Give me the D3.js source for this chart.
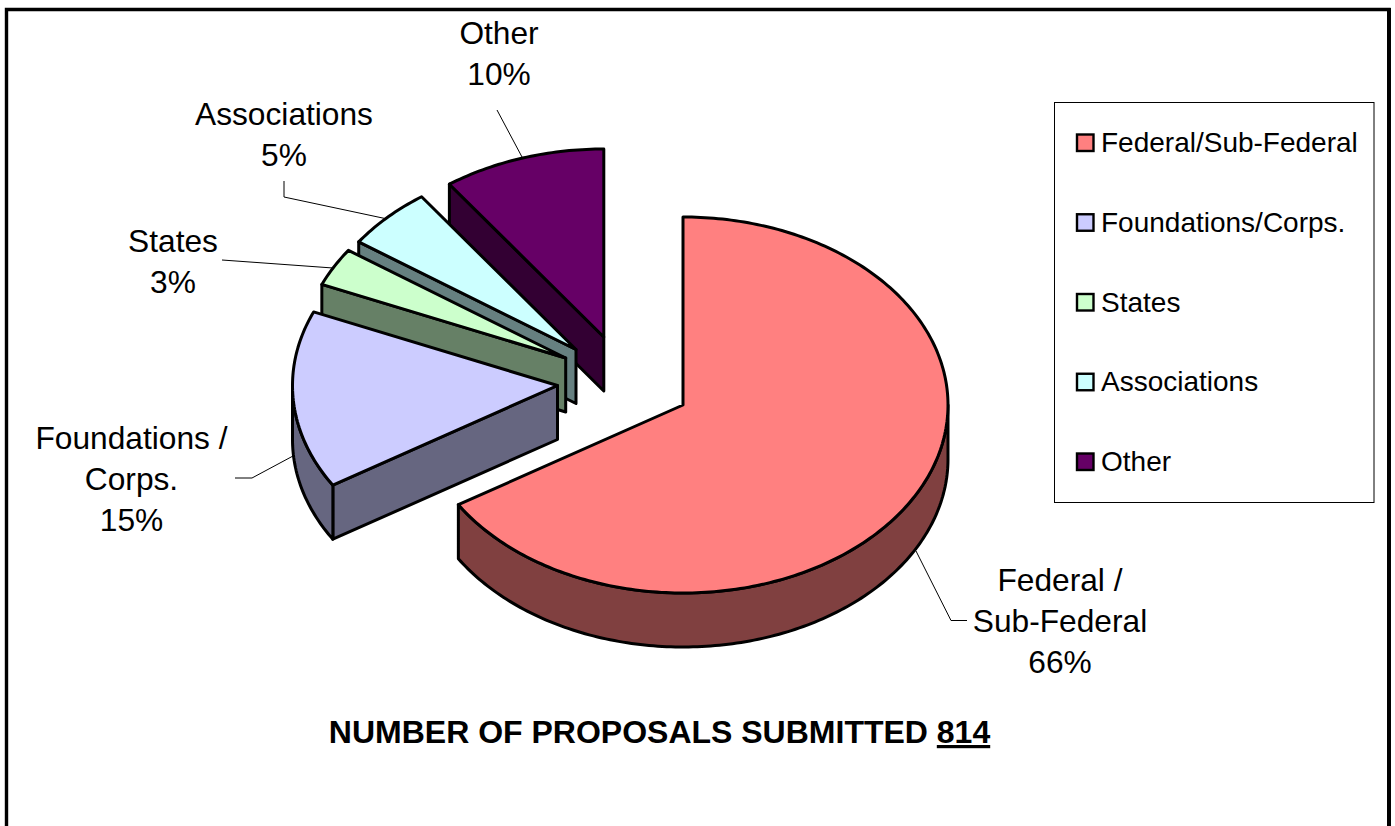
<!DOCTYPE html>
<html><head><meta charset="utf-8">
<script src="https://cdn.jsdelivr.net/npm/d3@7"></script>
<style>html,body{margin:0;padding:0;background:#fff;overflow:hidden}svg{display:block}text{font-family:"Liberation Sans",Arial,sans-serif;fill:#000}</style>
</head><body><svg id="c" width="1395" height="826"></svg>
<script>
// data
const categories = ["Federal/Sub-Federal","Foundations/Corps.","States","Associations","Other"];
const sliceValues = [66.1, 15.3, 3.3, 5.4, 9.9];
const percentLabels = ["66%","15%","3%","5%","10%"];
const sliceLabels = [["Federal /","Sub-Federal"],["Foundations /","Corps."],["States"],["Associations"],["Other"]];
const topColors = ["#FF8080","#CCCCFF","#CCFFCC","#CCFFFF","#660066"];
const wallColors = ["#804040","#666680","#668066","#668080","#330033"];
const titleText = "NUMBER OF PROPOSALS SUBMITTED ";
const titleValue = "814";

// layout
const RX = 265, RY = 188, DEPTH = 54;
const apexes = [[683,405],[557.5,385.5],[565.7,358],[576,349.5],[603.8,337]];
const labelPos = [[1060,591],[131.5,449],[173,252],[284,125],[499,44]];
const leaders = [
  [[916,551],[951,620.5],[967,620.5]],
  [[293,456],[252,478],[235,478]],
  [[333,268],[222,260]],
  [[385,218.5],[284,197],[284,181]],
  [[522,157],[497,110]]
];

const svg = d3.select("#c");
const pie = d3.pie().sort(null).value(d=>d);
const arcs = pie(sliceValues);
const sx = d3.scaleLinear().domain([-1,1]).range([-RX,RX]);
const sy = d3.scaleLinear().domain([-1,1]).range([-RY,RY]);
const pt = (i,a,dz=0)=>[apexes[i][0]+sx(Math.sin(a)), apexes[i][1]+sy(-Math.cos(a))+dz];
function rim(i,a0,a1,dz=0){ const n=Math.max(2,Math.ceil(Math.abs(a1-a0)*60)); return d3.range(n+1).map(k=>pt(i,a0+(a1-a0)*k/n,dz)); }
const line = d3.line();

const g = svg.append("g");
// frame
svg.append("path").attr("d","M6.5,826V9.5H1389V826").attr("fill","none").attr("stroke","#000").attr("stroke-width",3.4);
svg.append("rect").attr("x",1387).attr("y",8).attr("width",4).attr("height",818).attr("fill","#000");

// draw back to front
[4,3,2,1,0].forEach(i=>{
  const a = arcs[i], ap = apexes[i];
  const s = g.append("g");
  const style = sel=>sel.attr("stroke","#000").attr("stroke-width",3).attr("stroke-linejoin","round");
  if(i>0){
    const p0=pt(i,a.startAngle);
    s.append("path").attr("d",line([p0,[p0[0],p0[1]+DEPTH],[ap[0],ap[1]+DEPTH],ap])+"Z").attr("fill",wallColors[i]).call(style);
  }
  const from=Math.max(a.startAngle,Math.PI/2), to=Math.min(a.endAngle,1.5*Math.PI);
  if(to>from){
    const top=rim(i,from,to), bot=rim(i,to,from,DEPTH);
    s.append("path").attr("d",line(top.concat(bot))+"Z").attr("fill",wallColors[i]).call(style);
  }
  s.append("path").attr("d",line([ap].concat(rim(i,a.startAngle,a.endAngle)))+"Z").attr("fill",topColors[i]).call(style);
});

// leader lines
svg.selectAll("path.leader").data(leaders).join("path").attr("class","leader")
  .attr("d",d=>line(d)).attr("fill","none").attr("stroke","#000").attr("stroke-width",1);

// labels
const LH = 41;
sliceLabels.forEach((ls,i)=>{
  const t = svg.append("text").attr("text-anchor","middle").attr("font-size",31.7);
  ls.concat(percentLabels[i]).forEach((s,k)=>t.append("tspan").attr("x",labelPos[i][0]).attr("y",labelPos[i][1]+k*LH).text(s));
});

// legend
svg.append("rect").attr("x",1054.5).attr("y",102.5).attr("width",319.5).attr("height",400).attr("fill","#fff").attr("stroke","#000").attr("stroke-width",1);
const ly = d3.scalePoint().domain(categories).range([142.5,461.5]);
categories.forEach((c,i)=>{
  svg.append("rect").attr("x",1077).attr("y",ly(c)-8).attr("width",16.5).attr("height",16.5).attr("fill",topColors[i]).attr("stroke","#000").attr("stroke-width",2.4);
  svg.append("text").attr("x",1101).attr("y",ly(c)+9.5).attr("font-size",28).text(c);
});

// title
const tt = svg.append("text").attr("x",659.5).attr("y",743).attr("text-anchor","middle").attr("font-size",32).attr("font-weight","bold");
tt.append("tspan").text(titleText);
tt.append("tspan").attr("text-decoration","underline").text(titleValue);
</script></body></html>
